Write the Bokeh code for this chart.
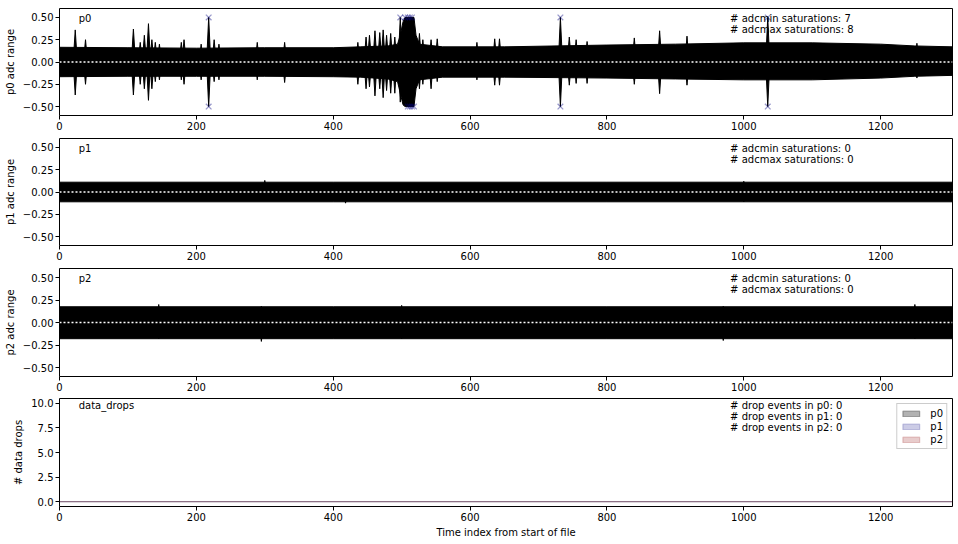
import numpy as np
from bokeh.plotting import figure
from bokeh.layouts import column
from bokeh.models import Range1d, FixedTicker, CustomJSTickFormatter, Label
from bokeh.embed import file_html
from bokeh.resources import INLINE

# ---------------- data ----------------
T_END = 1305
x_ticks = [0, 200, 400, 600, 800, 1000, 1200]
adc_ticks = [-0.5, -0.25, 0.0, 0.25, 0.5]
drop_ticks = [0, 2.5, 5.0, 7.5, 10.0]

# slowly varying envelope of the p0 noise band
p0_env_t  = [0, 100, 200, 300, 400, 440, 480, 494, 498, 502, 505, 518, 521, 526, 560, 650, 800, 900, 1000, 1100, 1200, 1250, 1305]
p0_env_hi = [0.165, 0.16, 0.155, 0.16, 0.16, 0.17, 0.18, 0.2, 0.3, 0.45, 0.5, 0.5, 0.3, 0.2, 0.17, 0.17, 0.19, 0.2, 0.215, 0.215, 0.2, 0.18, 0.17]
p0_env_lo = [-0.165, -0.16, -0.16, -0.16, -0.165, -0.17, -0.19, -0.22, -0.35, -0.48, -0.5, -0.5, -0.3, -0.2, -0.17, -0.17, -0.18, -0.19, -0.2, -0.2, -0.18, -0.16, -0.15]
# isolated spikes of p0: time, top, bottom
p0_spike_t   = [23, 38, 108, 118, 124, 130, 135, 140, 146, 178, 182, 207, 218, 226, 233, 289, 329,
                436, 448, 453, 461, 468, 473, 478, 484, 490, 498, 526, 531, 543, 552, 610,
                636, 643, 732, 745, 755, 771, 840, 877, 917, 1035, 1253]
p0_spike_top = [0.36, 0.25, 0.37, 0.22, 0.3, 0.43, 0.25, 0.22, 0.2, 0.22, 0.25, 0.2, 0.5, 0.25, 0.2, 0.22, 0.22,
                0.22, 0.28, 0.3, 0.35, 0.33, 0.36, 0.3, 0.32, 0.28, 0.5, 0.32, 0.25, 0.25, 0.26, 0.22,
                0.26, 0.26, 0.5, 0.28, 0.25, 0.23, 0.27, 0.35, 0.29, 0.5, 0.21]
p0_spike_bot = [-0.37, -0.25, -0.37, -0.25, -0.3, -0.43, -0.3, -0.22, -0.2, -0.2, -0.25, -0.2, -0.5, -0.22, -0.2, -0.2, -0.23,
                -0.25, -0.3, -0.28, -0.38, -0.3, -0.4, -0.32, -0.35, -0.35, -0.45, -0.3, -0.25, -0.3, -0.22, -0.2,
                -0.26, -0.26, -0.5, -0.26, -0.24, -0.24, -0.25, -0.355, -0.26, -0.5, -0.18]
p0_adcmax_t = [218, 498, 505, 509, 512, 515, 732, 1035]
p0_adcmin_t = [218, 509, 512, 515, 518, 732, 1035]

p1_env_t  = [0, 400, 800, 1305]
p1_env_hi = [0.11, 0.11, 0.11, 0.11]
p1_env_lo = [-0.11, -0.11, -0.11, -0.11]
p1_spike_t   = [300, 418, 1000]
p1_spike_top = [0.13, 0.1, 0.12]
p1_spike_bot = [-0.1, -0.125, -0.11]
p1_adcmax_t = []
p1_adcmin_t = []

p2_env_t  = [0, 400, 800, 1305]
p2_env_hi = [0.175, 0.175, 0.175, 0.175]
p2_env_lo = [-0.18, -0.18, -0.18, -0.18]
p2_spike_t   = [145, 295, 500, 970, 1250]
p2_spike_top = [0.2, 0.18, 0.19, 0.18, 0.2]
p2_spike_bot = [-0.18, -0.21, -0.18, -0.2, -0.18]
p2_adcmax_t = []
p2_adcmin_t = []

drop_t = [0, 1305]
drops_p0 = [0, 0]
drops_p1 = [0, 0]
drops_p2 = [0, 0]

FONT = "DejaVu Sans"
FS = "10px"
W = 957
frame_left, frame_right = 59, 5


def style(p):
    p.outline_line_color = "black"
    p.outline_line_width = 1
    p.outline_line_alpha = 1
    p.xgrid.visible = False
    p.ygrid.visible = False
    for ax in (p.xaxis[0], p.yaxis[0]):
        ax.axis_line_color = None
        ax.major_tick_in = 0
        ax.major_tick_out = 4
        ax.major_tick_line_color = "black"
        ax.minor_tick_line_color = None
        ax.major_label_text_font = FONT
        ax.major_label_text_font_size = FS
        ax.major_label_text_color = "black"
        ax.major_label_standoff = 2
        ax.axis_label_text_font = FONT
        ax.axis_label_text_font_size = FS
        ax.axis_label_text_font_style = "normal"
        ax.axis_label_text_color = "black"
        ax.axis_label_standoff = 4
    p.xaxis[0].ticker = FixedTicker(ticks=x_ticks)


def adc_panel(name, env_t, env_hi, env_lo, sp_t, sp_top, sp_bot, amax_t, amin_t, h, top, bottom):
    p = figure(width=W, height=h, output_backend="svg", toolbar_location=None,
               x_range=Range1d(0, T_END), y_range=Range1d(-0.6, 0.6),
               min_border_left=frame_left, min_border_right=frame_right,
               min_border_top=top, min_border_bottom=bottom)
    style(p)
    p.yaxis[0].ticker = FixedTicker(ticks=adc_ticks)
    p.yaxis[0].formatter = CustomJSTickFormatter(code="return tick.toFixed(2).replace('-', '\u2212');")
    p.yaxis[0].axis_label = name + " adc range"
    # noise band
    p.patch(x=env_t + env_t[::-1], y=env_hi + env_lo[::-1], fill_color="black", line_color="black", line_width=1)
    # spikes
    w = 3.0
    xs = [[t - w, t, t + w, t] for t in sp_t]
    ys = [[0, a, 0, b] for a, b in zip(sp_top, sp_bot)]
    if xs:
        p.patches(xs=xs, ys=ys, fill_color="black", line_color="black", line_width=1)
    # zero line
    p.line(x=[0, T_END], y=[0, 0], line_color="white", line_dash="2 2", line_width=1.5)
    # saturation markers
    if amax_t:
        p.scatter(x=amax_t, y=[0.5] * len(amax_t), marker="x", size=8, line_color="navy", line_alpha=0.4, line_width=1.3)
    if amin_t:
        p.scatter(x=amin_t, y=[-0.5] * len(amin_t), marker="x", size=8, line_color="navy", line_alpha=0.4, line_width=1.3)
    p.add_layout(Label(x=28, y=0.55, text=name, text_font=FONT, text_font_size=FS, text_baseline="top", text_color="black"))
    p.add_layout(Label(x=980, y=0.55, text="# adcmin saturations: %d" % len(amin_t), text_font=FONT,
                       text_font_size=FS, text_baseline="top", text_color="black"))
    p.add_layout(Label(x=980, y=0.43, text="# adcmax saturations: %d" % len(amax_t), text_font=FONT,
                       text_font_size=FS, text_baseline="top", text_color="black"))
    return p


p0 = adc_panel("p0", p0_env_t, p0_env_hi, p0_env_lo, p0_spike_t, p0_spike_top, p0_spike_bot,
               p0_adcmax_t, p0_adcmin_t, 137, 8, 22)
p1 = adc_panel("p1", p1_env_t, p1_env_hi, p1_env_lo, p1_spike_t, p1_spike_top, p1_spike_bot,
               p1_adcmax_t, p1_adcmin_t, 130, 1, 22)
p2 = adc_panel("p2", p2_env_t, p2_env_hi, p2_env_lo, p2_spike_t, p2_spike_top, p2_spike_bot,
               p2_adcmax_t, p2_adcmin_t, 130, 1, 21)

# data drops panel
p3 = figure(width=W, height=147, output_backend="svg", toolbar_location=None,
            x_range=Range1d(0, T_END), y_range=Range1d(-0.5, 10.5),
            min_border_left=frame_left, min_border_right=frame_right,
            min_border_top=1, min_border_bottom=38)
style(p3)
p3.yaxis[0].ticker = FixedTicker(ticks=drop_ticks)
p3.yaxis[0].formatter = CustomJSTickFormatter(code="return tick.toFixed(1).replace('-', '\u2212');")
p3.yaxis[0].axis_label = "# data drops"
p3.xaxis[0].axis_label = "Time index from start of file"
p3.xaxis[0].axis_label_standoff = 3

zeros = [0] * len(drop_t)
for lab, vals, col in (("p0", drops_p0, "black"), ("p1", drops_p1, "navy"), ("p2", drops_p2, "darkred")):
    alpha = 0.3 if lab == "p0" else 0.2
    p3.patch(x=drop_t + drop_t[::-1], y=vals + zeros[::-1], fill_color=col, fill_alpha=alpha,
             line_color=col, line_alpha=alpha, line_width=1.2, legend_label=lab)

p3.add_layout(Label(x=28, y=10.3, text="data_drops", text_font=FONT, text_font_size=FS, text_baseline="top", text_color="black"))
for i, (lab, vals) in enumerate((("p0", drops_p0), ("p1", drops_p1), ("p2", drops_p2))):
    n_events = int(sum(1 for v in vals if v > 0))
    p3.add_layout(Label(x=980, y=10.3 - i * 1.1, text="# drop events in %s: %d" % (lab, n_events),
                        text_font=FONT, text_font_size=FS, text_baseline="top", text_color="black"))

lg = p3.legend[0]
lg.location = "top_right"
lg.border_line_color = "#cccccc"
lg.border_line_alpha = 1
lg.background_fill_alpha = 0.8
lg.label_text_font = FONT
lg.label_text_font_size = FS
lg.label_text_color = "black"
lg.glyph_width = 21
lg.glyph_height = 7
lg.label_height = 12
lg.label_width = 12
lg.spacing = 1
lg.padding = 3
lg.margin = 5
lg.label_standoff = 9

layout = column(p0, p1, p2, p3, spacing=0)
open("out.html", "w").write(file_html(layout, INLINE))
